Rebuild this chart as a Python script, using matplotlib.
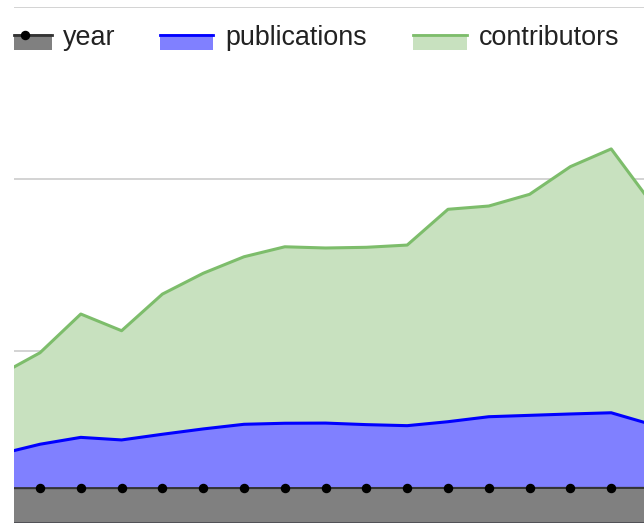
import matplotlib
matplotlib.use("Agg")
import matplotlib.pyplot as plt
from matplotlib.patches import Rectangle
from matplotlib.lines import Line2D

# yearly series
year = [1996, 1997, 1998, 1999, 2000, 2001, 2002, 2003, 2004,
        2005, 2006, 2007, 2008, 2009, 2010, 2011, 2012]
publications = [3970, 4550, 4950, 4800, 5130, 5440, 5710, 5770, 5780,
                5690, 5630, 5860, 6150, 6230, 6310, 6380, 5690]
contributors = [8570, 9870, 12120, 11150, 13280, 14490, 15450, 16030, 15960,
                16000, 16130, 18210, 18400, 19080, 20690, 21720, 18530]
series_names = ["year", "publications", "contributors"]

plt.rcParams["font.family"] = ["Liberation Sans", "DejaVu Sans"]

W, H = 644, 523
fig = plt.figure(figsize=(W / 100, H / 100), dpi=100)

# plot area runs past the right edge of the image
ax = fig.add_axes([14 / W, 0.5 / H, 630 / W, 516 / H])
idx = list(range(len(year)))

ax.fill_between(idx, contributors, color="#c8e1bf", lw=0, zorder=1)
ax.plot(idx, contributors, color="#7dbd6b", lw=2.2, zorder=2)
ax.fill_between(idx, publications, color="#8080ff", lw=0, zorder=3)
ax.plot(idx, publications, color="#0000ff", lw=2.2, zorder=4)
ax.fill_between(idx, year, color="#808080", lw=0, zorder=5)
ax.plot(idx, year, color="#333333", lw=1.5, marker="o", ms=5.8,
        mfc="black", mec="black", zorder=6)

ax.set_xlim(14.8 / 40.8, 644.8 / 40.8)
ax.set_ylim(0, 30000)
ax.set_yticks([0, 10000, 20000, 30000])
ax.grid(axis="y", color="#cccccc", lw=1.2, zorder=0)
ax.set_axisbelow(True)
ax.tick_params(left=False, bottom=False, labelleft=False, labelbottom=False)
for s in ax.spines.values():
    s.set_visible(False)
ax.axhline(0, color="#444444", lw=1.2, zorder=7)

# legend row (first icon is cut off at the plot's left edge)
icon_fill = ["#808080", "#8080ff", "#c8e1bf"]
icon_line = ["#333333", "#0000ff", "#7dbd6b"]
icon_x = [14, 160, 413]
icon_w = [38, 53, 54]
text_x = [63, 225, 479]
for name, fc, lc, ix, iw, tx in zip(series_names, icon_fill, icon_line,
                                    icon_x, icon_w, text_x):
    fig.patches.append(Rectangle((ix / W, 1 - 50 / H), iw / W, 16.5 / H,
                                 transform=fig.transFigure, fc=fc, ec="none"))
    fig.lines.append(Line2D([ix / W, (ix + iw) / W], [1 - 35 / H] * 2,
                            transform=fig.transFigure, color=lc, lw=2.0))
    fig.text(tx / W, 1 - 38 / H, name, fontsize=19.4, color="#222222",
             va="center", ha="left")
fig.lines.append(Line2D([25 / W], [1 - 35 / H], transform=fig.transFigure,
                        marker="o", ms=5.8, color="black", lw=0))

fig.savefig("out.png", dpi=100)
